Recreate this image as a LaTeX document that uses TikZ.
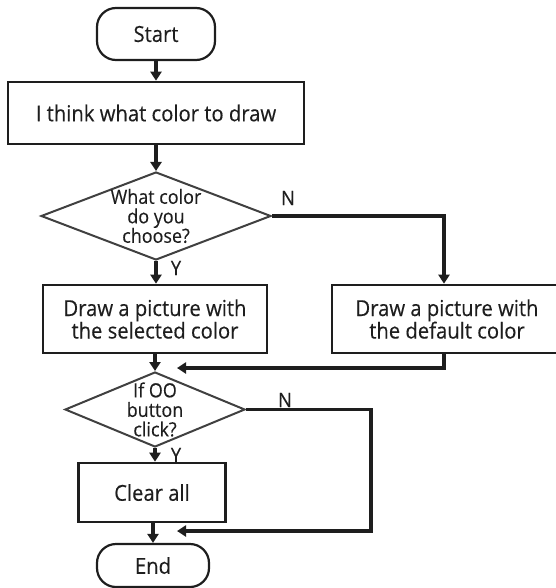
\documentclass[tikz,border=0pt]{standalone}
\usepackage{fontspec}
\setmainfont[FakeStretch=0.92,FakeBold=0.3]{Open Sans}
\usetikzlibrary{shapes.geometric,arrows.meta}
\definecolor{ink}{HTML}{1E1E1E}
\tikzset{
  boxtext/.style={font=\fontsize{22}{22.5}\selectfont, text=ink, align=center},
  dtext/.style={font=\fontsize{19.5}{19.5}\selectfont, text=ink, align=center, inner sep=0pt},
  procbox/.style={draw=ink, line width=2.6pt, rectangle, inner sep=0pt, boxtext},
  term/.style={draw=ink, line width=2.2pt, rectangle, rounded corners=19pt, inner sep=0pt, boxtext},
  dia/.style={draw=ink!85, line width=2pt, diamond, inner sep=0pt},
  lab/.style={font=\fontsize{20}{20}\selectfont, text=ink, inner sep=0pt},
  arr/.style={draw=ink, line width=3.1pt, -{Triangle[length=9pt,width=11pt]}},
}
\begin{document}
\begin{tikzpicture}[x=1pt,y=-1pt]
\useasboundingbox (0,0) rectangle (555,588);

\node[term, minimum width=118, minimum height=52] (start) at (156,34) {Start};
\node[procbox, minimum width=296, minimum height=62] (think) at (156,113) {I think what color to draw};
\node[dia, minimum width=230, minimum height=88] (d1) at (156,216) {};
\node[dtext] (d1t) at (d1.center) {What color\\do you\\choose?};
\node[procbox, minimum width=224, minimum height=68] (sel) at (155,319) {Draw a picture with\\the selected color};
\node[procbox, minimum width=230, minimum height=68] (def) at (447,319) {Draw a picture with\\the default color};
\node[dia, minimum width=180, minimum height=75] (d2) at (155,409.5) {};
\node[dtext] (d2t) at (d2.center) {If OO\\button\\click?};
\node[procbox, minimum width=147, minimum height=59] (clr) at (152,492.5) {Clear all};
\node[term, minimum width=112, minimum height=43] (end) at (153,565.5) {End};

\node[lab] (n1) at (288,198) {N};
\node[lab] (y1) at (176,268) {Y};
\node[lab] (n2) at (285,400) {N};
\node[lab] (y2) at (176,455) {Y};

\coordinate (m1) at (177,368);
\coordinate (c2) at (371,531);
\coordinate (m2) at (177,531);

\draw[arr] (start.south) -- (think.north);
\draw[arr] (think.south) -- (think.south |- d1.north);
\draw[arr] (d1.south) -- (d1.south |- sel.north);
\draw[arr] (d1.east) -- (d1.east -| 444,0) -- (444,0 |- def.north);
\draw[arr] (sel.south) -- (sel.south |- d2.north);
\draw[arr] (444,0 |- def.south) |- (m1);
\draw[arr] (d2.south) -- (d2.south |- clr.north);
\draw[arr] (d2.east) -| (c2) -- (m2);
\draw[arr] (clr.south -| end.north) -- (end.north);
\end{tikzpicture}
\end{document}
